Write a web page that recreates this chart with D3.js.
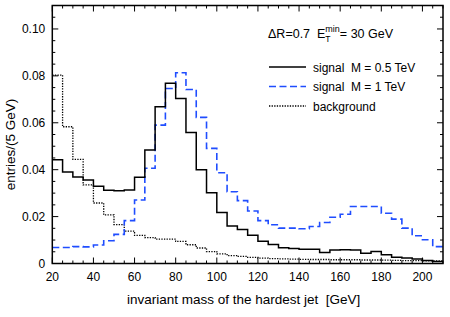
<!DOCTYPE html>
<html>
<head>
<meta charset="utf-8">
<script src="https://cdn.jsdelivr.net/npm/d3@7"></script>
<style>
  html, body { margin: 0; padding: 0; background: #fff; }
  text { font-family: "Liberation Sans", Arial, sans-serif; fill: #000; white-space: pre; }
</style>
</head>
<body>
<svg id="chart" width="450" height="317"></svg>
<script>
// bin lower edges, 5 GeV wide, 20 .. 205
const binEdges = d3.range(20, 210, 5);
const binWidth = 5;

const signal05 = [
    0.0442, 0.0390, 0.0369, 0.0356, 0.0329, 0.0312, 0.0310, 0.0313, 0.0368, 0.0484,
    0.0668, 0.0768, 0.0704, 0.0558, 0.0400, 0.0302, 0.0217, 0.0160, 0.0145, 0.0120,
    0.0095, 0.0081, 0.0067, 0.0064, 0.0061, 0.0061, 0.0047, 0.0058, 0.0059, 0.0058,
    0.0044, 0.0051, 0.0037, 0.0027, 0.0023, 0.0019, 0.0013, 0.0008
];
const signal1 = [
    0.0068, 0.0068, 0.0072, 0.0071, 0.0079, 0.0097, 0.0124, 0.0183, 0.0271, 0.0406,
    0.0590, 0.0746, 0.0813, 0.0742, 0.0623, 0.0491, 0.0387, 0.0306, 0.0268, 0.0224,
    0.0183, 0.0165, 0.0151, 0.0151, 0.0148, 0.0158, 0.0175, 0.0197, 0.0210, 0.0243,
    0.0243, 0.0243, 0.0214, 0.0189, 0.0151, 0.0118, 0.0101, 0.0072
];
const background = [
    0.0803, 0.0583, 0.0444, 0.0335, 0.0258, 0.0207, 0.0166, 0.0138, 0.0120, 0.0110,
    0.0104, 0.0104, 0.0094, 0.0080, 0.0066, 0.0051, 0.0041, 0.0034, 0.0030, 0.0026,
    0.0023, 0.0021, 0.0020, 0.0019, 0.0018, 0.0017, 0.0017, 0.0016, 0.0016, 0.0016,
    0.0015, 0.0015, 0.0014, 0.0013, 0.0012, 0.0012, 0.0011, 0.0011
];

const xTicks = [20, 40, 60, 80, 100, 120, 140, 160, 180, 200];
const yTicks = [0, 0.02, 0.04, 0.06, 0.08, 0.10];
const legendLabels = ["signal  M = 0.5 TeV", "signal  M = 1 TeV", "background"];

const margin = { top: 5.5, right: 7, bottom: 53.5, left: 52.3 };
const width = 450 - margin.left - margin.right;
const height = 317 - margin.top - margin.bottom;

const svg = d3.select('#chart');

const x = d3.scaleLinear().domain([20, 210]).range([0, width]);
const y = d3.scaleLinear().domain([0, 0.11]).range([height, 0]);

const g = svg.append('g')
    .attr('transform', `translate(${margin.left},${margin.top})`);

g.append('clipPath').attr('id', 'plotClip')
    .append('rect').attr('width', width).attr('height', height);

// histogram as a step line
function steps(values) {
    const pts = values.map((v, i) => [binEdges[i], v]);
    pts.push([binEdges[binEdges.length - 1] + binWidth, values[values.length - 1]]);
    return pts;
}
const stepLine = d3.line()
    .x(d => x(d[0]))
    .y(d => y(d[1]))
    .curve(d3.curveStepAfter);

const series = [
    { values: background, color: '#000', width: 1.3, dash: '1.3,1.3' },
    { values: signal1, color: '#1f4dff', width: 1.6, dash: '7,3.5' },
    { values: signal05, color: '#000', width: 1.5, dash: null },
];

g.append('g').attr('clip-path', 'url(#plotClip)')
    .selectAll('path')
    .data(series).enter().append('path')
    .attr('d', d => stepLine(steps(d.values)))
    .attr('fill', 'none')
    .attr('stroke', d => d.color)
    .attr('stroke-width', d => d.width)
    .attr('stroke-dasharray', d => d.dash);

// ticks on all four sides, pointing inward
const xMinor = d3.range(20, 211, 5);
const yMinor = d3.range(0, 0.1101, 0.005);
const isMajorX = v => Math.abs(v % 20) < 1e-6;
const isMajorY = v => Math.abs(Math.round(v * 1000) % 20) < 1e-6;

const ticks = g.append('g').attr('stroke', '#000').attr('stroke-width', 1);
xMinor.forEach(v => {
    const len = isMajorX(v) ? 6 : 3;
    ticks.append('line').attr('x1', x(v)).attr('x2', x(v)).attr('y1', height).attr('y2', height - len);
    ticks.append('line').attr('x1', x(v)).attr('x2', x(v)).attr('y1', 0).attr('y2', len);
});
yMinor.forEach(v => {
    const len = isMajorY(v) ? 6 : 3;
    ticks.append('line').attr('y1', y(v)).attr('y2', y(v)).attr('x1', 0).attr('x2', len);
    ticks.append('line').attr('y1', y(v)).attr('y2', y(v)).attr('x1', width).attr('x2', width - len);
});

g.append('rect')
    .attr('width', width).attr('height', height)
    .attr('fill', 'none').attr('stroke', '#000').attr('stroke-width', 1.5);

// tick labels
g.selectAll('.xlab')
    .data(xTicks).enter().append('text')
    .attr('class', 'xlab')
    .attr('x', d => x(d))
    .attr('y', height + 17)
    .attr('text-anchor', 'middle')
    .attr('font-size', '12px')
    .text(d => d);

g.selectAll('.ylab')
    .data(yTicks).enter().append('text')
    .attr('class', 'ylab')
    .attr('x', -7)
    .attr('y', d => y(d) + 4)
    .attr('text-anchor', 'end')
    .attr('font-size', '12px')
    .text(d => d === 0 ? '0' : d.toFixed(2));

// axis titles
g.append('text')
    .attr('x', width / 2 - 4)
    .attr('y', height + 40)
    .attr('text-anchor', 'middle')
    .attr('font-size', '13.5px')
    .text('invariant mass of the hardest jet  [GeV]');

svg.append('text')
    .attr('transform', `translate(15,${margin.top + height / 2 + 10}) rotate(-90)`)
    .attr('text-anchor', 'middle')
    .attr('font-size', '13.5px')
    .text('entries/(5 GeV)');

// header text: ΔR=0.7  E_T^min = 30 GeV
const hx = 268, hy = 38;
const head = svg.append('text').attr('x', hx).attr('y', hy).attr('font-size', '12.5px').text('ΔR=0.7  E');
const hw = head.node().getComputedTextLength();
const sup = svg.append('text').attr('x', hx + hw).attr('y', hy - 6).attr('font-size', '9px').text('min');
svg.append('text').attr('x', hx + hw).attr('y', hy + 4).attr('font-size', '8.5px').text('T');
const sw = sup.node().getComputedTextLength();
svg.append('text').attr('x', hx + hw + sw).attr('y', hy).attr('font-size', '12.5px').text('= 30 GeV');

// legend
const legend = svg.append('g').attr('transform', 'translate(269,67)');
const legendItems = legend.selectAll('g')
    .data([series[2], series[1], series[0]]).enter().append('g')
    .attr('transform', (d, i) => `translate(0,${i * 19.5})`);
legendItems.append('line')
    .attr('x1', 0).attr('x2', 37)
    .attr('stroke', d => d.color)
    .attr('stroke-width', d => d.width)
    .attr('stroke-dasharray', d => d.dash);
legendItems.append('text')
    .attr('x', 44)
    .attr('y', 4.5)
    .attr('font-size', '12px')
    .text((d, i) => legendLabels[i]);
</script>
</body>
</html>
